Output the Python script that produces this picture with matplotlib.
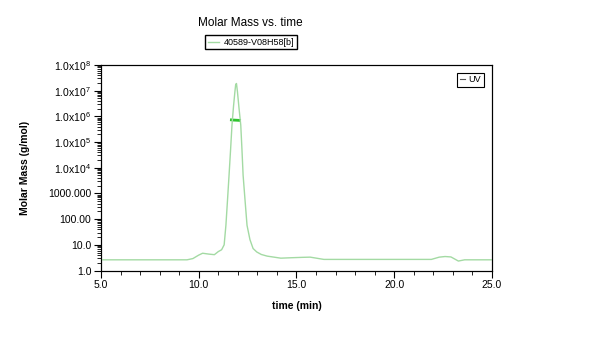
import matplotlib
matplotlib.use("Agg")
import matplotlib.pyplot as plt
from matplotlib.ticker import FixedLocator, FixedFormatter, MultipleLocator, LogLocator, NullFormatter
from matplotlib.lines import Line2D

plt.rcParams['font.family'] = ['Liberation Sans', 'DejaVu Sans']
plt.rcParams['mathtext.fontset'] = 'custom'
plt.rcParams['mathtext.rm'] = 'Liberation Sans'

# UV detector trace (relative signal) vs. elution time
uv_time = [5.0, 9.4, 9.7, 10.0, 10.2, 10.5, 10.8, 11.0, 11.17, 11.3, 11.39, 11.47,
           11.55, 11.63, 11.70, 11.78, 11.85, 11.89, 11.93, 11.98, 12.06, 12.15, 12.21,
           12.27, 12.37, 12.47, 12.62, 12.78, 12.97, 13.2, 13.5, 14.2, 14.7, 15.3,
           15.7, 16.4, 21.9, 22.3, 22.6, 22.9, 23.28, 23.6, 25.0]
uv_signal = [0.052, 0.052, 0.058, 0.075, 0.084, 0.080, 0.077, 0.092, 0.101, 0.125, 0.22, 0.34,
             0.463, 0.59, 0.707, 0.80, 0.87, 0.905, 0.91, 0.87, 0.79, 0.707, 0.59,
             0.463, 0.34, 0.22, 0.15, 0.107, 0.09, 0.078, 0.07, 0.06, 0.062, 0.064,
             0.065, 0.054, 0.054, 0.065, 0.068, 0.066, 0.046, 0.052, 0.052]

# Molar mass across the main peak
mm_time = [11.6, 11.75, 11.9, 12.05, 12.16]
mm_value = [7.4e5, 7.2e5, 7.1e5, 7.0e5, 6.9e5]

y_ticks = [1, 10, 100, 1000, 1e4, 1e5, 1e6, 1e7, 1e8]
y_labels = ['1.0', '10.0', '100.00', '1000.000',
            r'1.0x10$^{\mathregular{4}}$', r'1.0x10$^{\mathregular{5}}$',
            r'1.0x10$^{\mathregular{6}}$', r'1.0x10$^{\mathregular{7}}$',
            r'1.0x10$^{\mathregular{8}}$']
x_ticks = [5, 10, 15, 20, 25]
x_labels = ['5.0', '10.0', '15.0', '20.0', '25.0']

fig = plt.figure(figsize=(6.0, 3.38), dpi=100)
ax = fig.add_axes([0.1683, 0.1997, 0.6517, 0.608])

uv_color = '#a3daa3'
mm_color = '#2ec42e'

ax.set_yscale('log')
ax.set_ylim(1, 1e8)
ax.set_xlim(5, 25)
ax.yaxis.set_major_locator(FixedLocator(y_ticks))
ax.yaxis.set_major_formatter(FixedFormatter(y_labels))
ax.yaxis.set_minor_locator(LogLocator(base=10, subs=range(2, 10), numticks=20))
ax.yaxis.set_minor_formatter(NullFormatter())
ax.xaxis.set_major_locator(FixedLocator(x_ticks))
ax.xaxis.set_major_formatter(FixedFormatter(x_labels))
ax.xaxis.set_minor_locator(MultipleLocator(1))
ax.tick_params(axis='both', which='major', direction='out', length=5, width=0.8,
               labelsize=7.5, colors='black', pad=2)
ax.tick_params(axis='both', which='minor', direction='out', length=3, width=0.6)
for s in ax.spines.values():
    s.set_linewidth(0.8)

ax.plot(mm_time, mm_value, color=mm_color, lw=2.0, solid_capstyle='butt', zorder=3)

# UV on its own hidden linear scale
ax2 = ax.twinx()
ax2.set_ylim(0, 1)
ax2.set_yticks([])
ax2.plot(uv_time, uv_signal, color=uv_color, lw=1.0)
ax2.set_xlim(5, 25)

ax.set_xlabel('time (min)', fontsize=7.5, fontweight='bold', labelpad=8)
ax.set_ylabel('Molar Mass (g/mol)', fontsize=7.5, fontweight='bold', labelpad=13)

fig.text(0.4167, 0.932, 'Molar Mass vs. time', ha='center', va='center', fontsize=8.5)

h1 = [Line2D([], [], color=uv_color, lw=1.0)]
fig.legend(h1, ['40589-V08H58[b]'], loc='center', bbox_to_anchor=(0.4183, 0.875),
           fontsize=6.5, frameon=True, fancybox=False, edgecolor='black',
           handlelength=1.2, handletextpad=0.5, borderpad=0.3, framealpha=1)
h2 = [Line2D([], [], color='#555555', lw=0.8)]
leg2 = ax2.legend(h2, ['UV'], loc='upper right', bbox_to_anchor=(0.99, 0.985),
                  fontsize=6.5, frameon=True, fancybox=False, edgecolor='black',
                  handlelength=0.5, handletextpad=0.4, borderpad=0.3, framealpha=1)
leg2.get_frame().set_linewidth(0.8)

fig.savefig('out.png', dpi=100, facecolor='white')
